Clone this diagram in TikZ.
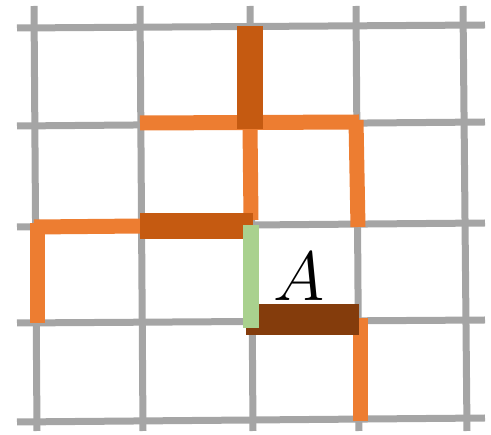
\documentclass[tikz,border=0pt]{standalone}
\usepackage{amsmath,amssymb}
\usepackage{xcolor}
\usepackage{tikz}
\definecolor{gridgray}{HTML}{A5A5A5}
\definecolor{lorange}{HTML}{ED7D31}
\definecolor{dorange}{HTML}{C55A11}
\definecolor{brownbar}{HTML}{843C0C}
\definecolor{greenbar}{HTML}{A9D18E}

\begin{document}
\begin{tikzpicture}[x=1pt,y=-1pt]
  \useasboundingbox (0,0) rectangle (491,435);
  \foreach \xa/\xb in {34/37,140/143,250/253,356/359,463/467}
    \draw[gridgray,line width=7pt] (\xa,6)--(\xb,431);
  \foreach \ya/\yb in {28/25,126/122,227/223,323/320,422/418}
    \draw[gridgray,line width=7pt] (17,\ya)--(485,\yb);
  \draw[lorange,line width=15pt] (140,123)--(359,122);
  \draw[lorange,line width=15pt] (250,125)--(251,220);
  \draw[lorange,line width=15pt] (356,120)--(358,227);
  \draw[lorange,line width=15pt] (34,227)--(142,226);
  \draw[lorange,line width=15pt] (37,223)--(37,323);
  \draw[lorange,line width=15pt] (360,318)--(360,421);
  \draw[dorange,line width=26pt] (250,26)--(250,129);
  \draw[dorange,line width=26pt] (140,226)--(253,226);
  \draw[brownbar,line width=31pt] (246,320)--(359,320);
  \draw[greenbar,line width=16pt] (251,225)--(251,328);
  \node[font=\Huge,scale=2.8] (labA) at (299,277) {$A$};
\end{tikzpicture}
\end{document}
